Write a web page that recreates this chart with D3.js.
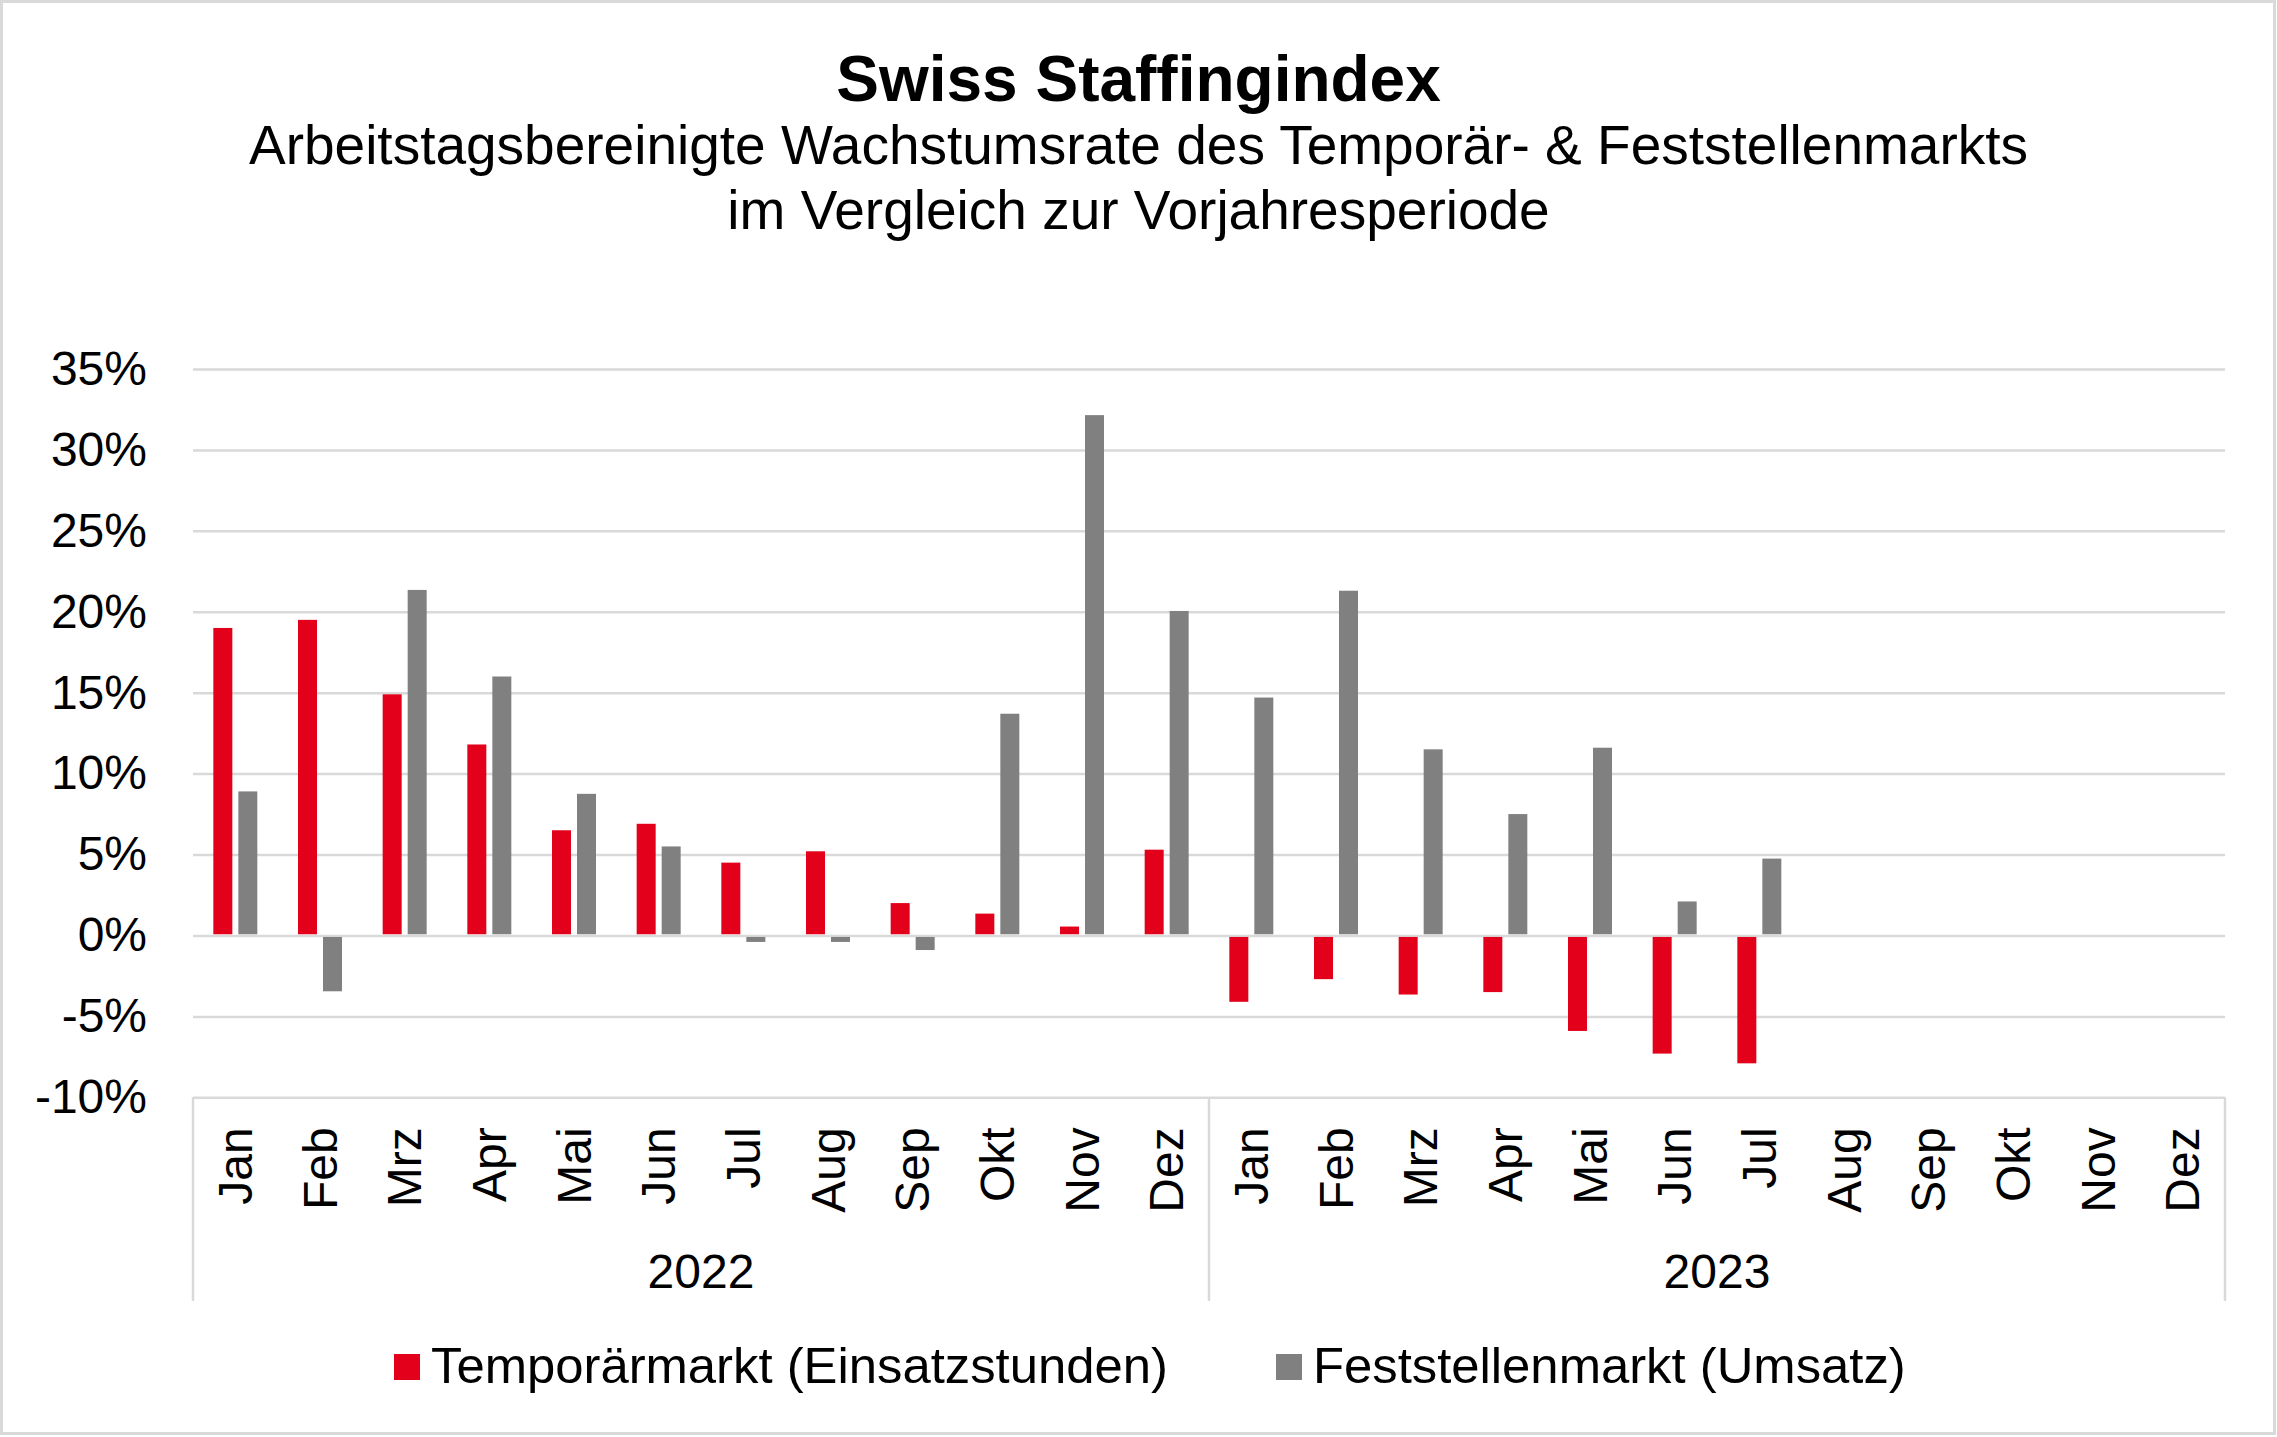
<!DOCTYPE html>
<html>
<head>
<meta charset="utf-8">
<script src="https://cdn.jsdelivr.net/npm/d3@7"></script>
<style>
  body { margin: 0; background: #fff; }
  text { font-family: "Liberation Sans", Arial, sans-serif; fill: #000; }
</style>
</head>
<body>
<div id="chart"></div>
<script>
// values (percent)
var months = ["Jan","Feb","Mrz","Apr","Mai","Jun","Jul","Aug","Sep","Okt","Nov","Dez"];
var years = ["2022","2023"];
var seriesNames = ["Temporärmarkt (Einsatzstunden)", "Feststellenmarkt (Umsatz)"];
var temporaer = [19.0, 19.5, 14.9, 11.8, 6.5, 6.9, 4.5, 5.2, 2.0, 1.35, 0.55, 5.3,
                 -4.1, -2.7, -3.65, -3.5, -5.9, -7.3, -7.9, null, null, null, null, null];
var feststellen = [8.9, -3.45, 21.35, 16.0, 8.75, 5.5, -0.4, -0.4, -0.9, 13.7, 32.15, 20.05,
                   14.7, 21.3, 11.5, 7.5, 11.6, 2.1, 4.75, null, null, null, null, null];
var yTicks = [-10, -5, 0, 5, 10, 15, 20, 25, 30, 35];

var width = 2277, height = 1437;
var plotLeft = 193, plotRight = 2225, plotTop = 369, plotBottom = 1097.3;
var colors = ["#E2001A", "#808080"];
var gridColor = "#d9d9d9";

var svg = d3.select("#chart").append("svg")
    .attr("width", width)
    .attr("height", height);

// outer frame
svg.append("rect")
    .attr("x", 1.5).attr("y", 1.5)
    .attr("width", width - 4).attr("height", height - 5)
    .attr("fill", "#fff")
    .attr("stroke", gridColor)
    .attr("stroke-width", 3);

// titles
svg.append("text")
    .attr("x", width / 2).attr("y", 101)
    .attr("text-anchor", "middle")
    .style("font-size", "64px").style("font-weight", "bold")
    .text("Swiss Staffingindex");
svg.append("text")
    .attr("x", width / 2).attr("y", 164)
    .attr("text-anchor", "middle")
    .style("font-size", "55px")
    .text("Arbeitstagsbereinigte Wachstumsrate des Temporär- & Feststellenmarkts");
svg.append("text")
    .attr("x", width / 2).attr("y", 229)
    .attr("text-anchor", "middle")
    .style("font-size", "55px")
    .text("im Vergleich zur Vorjahresperiode");

var categories = [];
years.forEach(function (yr) {
  months.forEach(function (m) { categories.push(yr + "-" + m); });
});

var x = d3.scaleBand()
    .domain(categories)
    .range([plotLeft, plotRight])
    .padding(0);

var xYear = d3.scaleBand()
    .domain(years)
    .range([plotLeft, plotRight])
    .padding(0);

var xSeries = d3.scaleBand()
    .domain([0, 1])
    .range([x.bandwidth() / 2 - 22, x.bandwidth() / 2 + 22])
    .paddingInner(0.24)
    .paddingOuter(0);

var y = d3.scaleLinear()
    .domain([-10, 35])
    .range([plotBottom, plotTop]);

// y axis with gridlines
var yAxis = svg.append("g")
    .attr("transform", "translate(" + plotLeft + ",0)")
    .call(d3.axisLeft(y)
      .tickValues(yTicks)
      .tickSizeInner(-(plotRight - plotLeft))
      .tickSizeOuter(0)
      .tickPadding(46)
      .tickFormat(function (d) { return d + "%"; }));
yAxis.select(".domain").remove();
yAxis.selectAll("line")
    .attr("stroke", gridColor)
    .attr("stroke-width", 2.5);
yAxis.selectAll("text")
    .style("font-size", "48px")
    .attr("fill", "#000");

// bars
var data = [];
categories.forEach(function (c, i) {
  [temporaer[i], feststellen[i]].forEach(function (v, s) {
    if (v !== null) data.push({ cat: c, series: s, value: v });
  });
});

svg.append("g").selectAll("rect")
    .data(data)
    .enter().append("rect")
    .attr("x", function (d) { return x(d.cat) + xSeries(d.series); })
    .attr("y", function (d) { return d.value >= 0 ? y(d.value) : y(0) + 1.5; })
    .attr("width", xSeries.bandwidth())
    .attr("height", function (d) { return d.value >= 0 ? y(0) - 1.2 - y(d.value) : y(d.value) - y(0) - 1.5; })
    .attr("fill", function (d) { return colors[d.series]; });

// month labels
var xAxis = svg.append("g")
    .attr("transform", "translate(0," + plotBottom + ")")
    .call(d3.axisBottom(x)
      .tickSize(0)
      .tickFormat(function (d) { return d.split("-")[1]; }));
xAxis.select(".domain").remove();
xAxis.selectAll("text")
    .attr("transform", "rotate(-90)")
    .attr("x", -30)
    .attr("y", 0)
    .attr("dy", "0.35em")
    .attr("text-anchor", "end")
    .attr("fill", "#000")
    .style("font-size", "48px");

// year group labels and dividers
var dividers = [plotLeft].concat(years.map(function (yr) { return xYear(yr) + xYear.bandwidth(); }));
svg.append("g").selectAll("line")
    .data(dividers)
    .enter().append("line")
    .attr("x1", function (d) { return d; })
    .attr("x2", function (d) { return d; })
    .attr("y1", plotBottom)
    .attr("y2", 1301)
    .attr("stroke", gridColor)
    .attr("stroke-width", 2.5);

svg.append("g").selectAll("text")
    .data(years)
    .enter().append("text")
    .attr("x", function (d) { return xYear(d) + xYear.bandwidth() / 2; })
    .attr("y", 1288)
    .attr("text-anchor", "middle")
    .style("font-size", "48px")
    .text(function (d) { return d; });

// legend
var legendX = [394, 1276];
var legend = svg.append("g").selectAll("g")
    .data(seriesNames)
    .enter().append("g")
    .attr("transform", function (d, i) { return "translate(" + legendX[i] + ",1354)"; });
legend.append("rect")
    .attr("width", 26)
    .attr("height", 26)
    .attr("fill", function (d, i) { return colors[i]; });
legend.append("text")
    .attr("x", 37)
    .attr("y", 29)
    .style("font-size", "50.8px")
    .text(function (d) { return d; });
</script>
</body>
</html>
